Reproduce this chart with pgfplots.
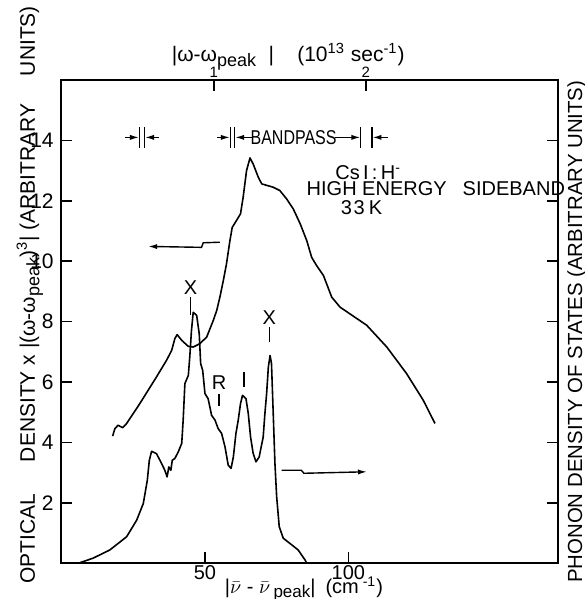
\documentclass[border=0pt]{standalone}
\usepackage{fontspec}
\setmainfont{Liberation Sans}
\usepackage{pgfplots}
\pgfplotsset{compat=1.18}
\usetikzlibrary{arrows.meta}

% phonon density of states (right scale)
\pgfplotstableread{
x y
17.8 4.21
18.6 4.46
19.7 4.57
21.3 4.49
22.7 4.63
27.3 5.29
33.1 6.17
36.6 6.72
38.4 7.05
39.5 7.44
40.3 7.57
41.9 7.38
44.2 7.18
45.9 7.16
48.2 7.27
50.6 7.49
52.9 8.04
54.1 8.37
55.2 8.81
56.4 9.36
57.5 9.91
58.7 10.68
59.5 11.12
61.0 11.35
62.4 11.57
63.3 12.11
64.5 13.00
65.7 13.42
66.8 13.22
68.6 12.78
69.8 12.56
73.8 12.45
76.1 12.34
78.5 12.06
80.8 11.73
83.2 11.24
85.5 10.68
87.2 10.13
88.9 9.86
91.3 9.53
94.2 8.81
97.1 8.48
106.4 7.88
113.4 7.16
120.3 6.28
126.1 5.40
130.2 4.63
}\phonon

% optical density x |w-wpeak|^3 (left scale)
\pgfplotstableread{
x y
5.8 0
11.0 0.17
16.8 0.44
22.7 0.88
26.2 1.43
28.5 1.98
29.9 2.75
30.6 3.41
31.4 3.71
33.1 3.63
34.9 3.30
36.0 3.08
36.8 2.86
37.4 3.19
38.1 3.08
38.6 3.41
39.5 3.47
40.7 3.69
41.9 3.97
42.4 4.74
43.0 5.95
44.2 6.22
44.7 6.83
45.3 7.71
45.9 8.31
47.1 8.21
48.0 7.60
48.5 6.61
49.2 6.39
50.0 5.62
51.1 5.45
51.7 5.18
52.3 4.90
53.5 4.74
54.6 4.46
55.8 4.30
57.0 3.85
58.1 3.25
59.1 3.14
59.9 3.52
60.8 4.30
61.6 4.74
62.4 5.29
63.1 5.56
64.3 5.45
65.1 4.96
65.9 4.18
66.8 3.64
67.8 3.36
68.9 3.52
70.3 4.18
70.9 4.96
71.5 5.62
72.1 6.50
72.7 6.88
73.2 6.61
73.8 4.96
74.4 3.30
75.0 2.20
75.9 1.21
77.3 0.83
79.6 0.66
82.5 0.44
84.9 0.11
85.5 0
}\optical

\pgfplotsset{
  common/.style={
    at={(0,0)}, anchor=south west,
    scale only axis, width=248.8pt, height=241.65pt,
    xmin=-0.3, xmax=173.2, ymin=0, ymax=16,
    major tick length=5.5pt,
    tick style={line width=0.8pt, black},
    axis line style={line width=1pt},
    tick label style={font=\fontsize{10.5}{12}\selectfont},
    /pgf/number format/assume math mode=true,
    clip=false,
  },
}

\begin{document}
\begin{tikzpicture}[font=\fontsize{10}{12}\selectfont,
  arr/.style={line width=0.7pt, -{Latex[length=4.5pt,width=2.6pt]}}]
\useasboundingbox (-30.35pt,-17.85pt) rectangle (261.65pt,281.65pt);

% top scale in 10^13 sec^-1 (1 unit = 53.05 cm^-1)
\begin{axis}[common, axis x line*=top, hide y axis,
  xtick={53.05,106.1}, xticklabels={1,2}, xtick align=inside,
  xticklabel style={font=\fontsize{7.5}{8}\selectfont, yshift=-2.2pt}]
\end{axis}

\begin{axis}[common, xtick={50,100}, xtick pos=left,
  xticklabel style={font=\fontsize{10}{12}\selectfont, yshift=2.6pt},
  ytick={2,4,...,14}]
\addplot[black, line width=0.8pt, line join=round] table[x=x, y=y] {\phonon};
\addplot[black, line width=0.8pt, line join=round] table[x=x, y=y] {\optical};

% peak markers
\node at (axis cs:45.0,9.12) {X};
\draw[line width=0.7pt] (axis cs:45.0,8.81) -- (axis cs:45.0,8.21);
\node at (axis cs:72.4,8.13) {X};
\draw[line width=0.7pt] (axis cs:72.4,7.82) -- (axis cs:72.4,7.32);
\node at (axis cs:54.9,5.97) {R};
\draw[line width=0.7pt] (axis cs:54.9,5.62) -- (axis cs:54.9,5.20);
\draw[line width=0.7pt] (axis cs:63.6,6.33) -- (axis cs:63.6,5.82);

% scale arrows
\draw[arr] (axis cs:55.2,10.63) -- (axis cs:49.4,10.61) -- (axis cs:48.8,10.46) -- (axis cs:30.2,10.49);
\draw[arr] (axis cs:76.7,3.08) -- (axis cs:83.6,3.08) -- (axis cs:84.5,2.98) -- (axis cs:106.5,3.03);

% bandpass markers
\draw[arr] (axis cs:22.1,14.1) -- (axis cs:27.0,14.1);
\draw[line width=0.7pt] (axis cs:27.1,13.75) -- (axis cs:27.1,14.45);
\draw[line width=0.7pt] (axis cs:29.0,13.75) -- (axis cs:29.0,14.45);
\draw[arr] (axis cs:33.8,14.1) -- (axis cs:29.1,14.1);
\draw[arr] (axis cs:54.2,14.1) -- (axis cs:58.7,14.1);
\draw[line width=0.7pt] (axis cs:58.8,13.75) -- (axis cs:58.8,14.45);
\draw[line width=0.7pt] (axis cs:60.4,13.75) -- (axis cs:60.4,14.45);
\draw[arr] (axis cs:66.5,14.1) -- (axis cs:60.5,14.1);
\node[inner sep=1pt] at (axis cs:80.9,14.1) {\scalebox{0.8}[1]{BANDPASS}};
\draw[arr] (axis cs:95.4,14.1) -- (axis cs:104.2,14.1);
\draw[line width=0.7pt] (axis cs:104.3,13.75) -- (axis cs:104.3,14.45);
\draw[line width=0.7pt] (axis cs:108.3,13.75) -- (axis cs:108.3,14.45);
\draw[arr] (axis cs:113.8,14.1) -- (axis cs:108.4,14.1);

% sample text
\node at (axis cs:106.9,12.94) {Cs\,I\,:\,H\textsuperscript{-}};
\node at (axis cs:130.5,12.39) {HIGH ENERGY\hspace{0.8em}SIDEBAND};
\node at (axis cs:104.6,11.78) {3\kern0.8pt3\kern2pt K};

% axis labels
\node[rotate=90, anchor=base west, font=\fontsize{10.5}{12}\selectfont] at (axis cs:-9.3,-0.9)
  {OPTICAL\hspace{1.5em}DENSITY x |(ω-ω\raisebox{-0.4ex}{\fontsize{9}{10}\selectfont peak})\textsuperscript{3}| (ARBITRARY\hspace{1.3em}UNITS)};
\node[rotate=90, anchor=base west, font=\fontsize{10.2}{12}\selectfont] at (axis cs:181.5,-0.88)
  {PHONON DENSITY OF STATES (ARBITRARY UNITS)};
\node[anchor=base west, font=\fontsize{10}{12}\selectfont] at (axis cs:54.5,-1.0)
  {|$\bar{\nu}$ - $\bar{\nu}$\,\raisebox{-0.35ex}{\fontsize{8.5}{10}\selectfont peak}|\hspace{0.5em}(cm\textsuperscript{ -1})};
\node[anchor=base west, font=\fontsize{10.5}{12}\selectfont] at (axis cs:36.0,16.6)
  {|ω-ω\raisebox{-0.45ex}{\fontsize{9}{10}\selectfont peak}\hspace{0.6em}|\hspace{1.1em}(10\textsuperscript{13} sec\textsuperscript{-1})};
\end{axis}
\end{tikzpicture}
\end{document}
